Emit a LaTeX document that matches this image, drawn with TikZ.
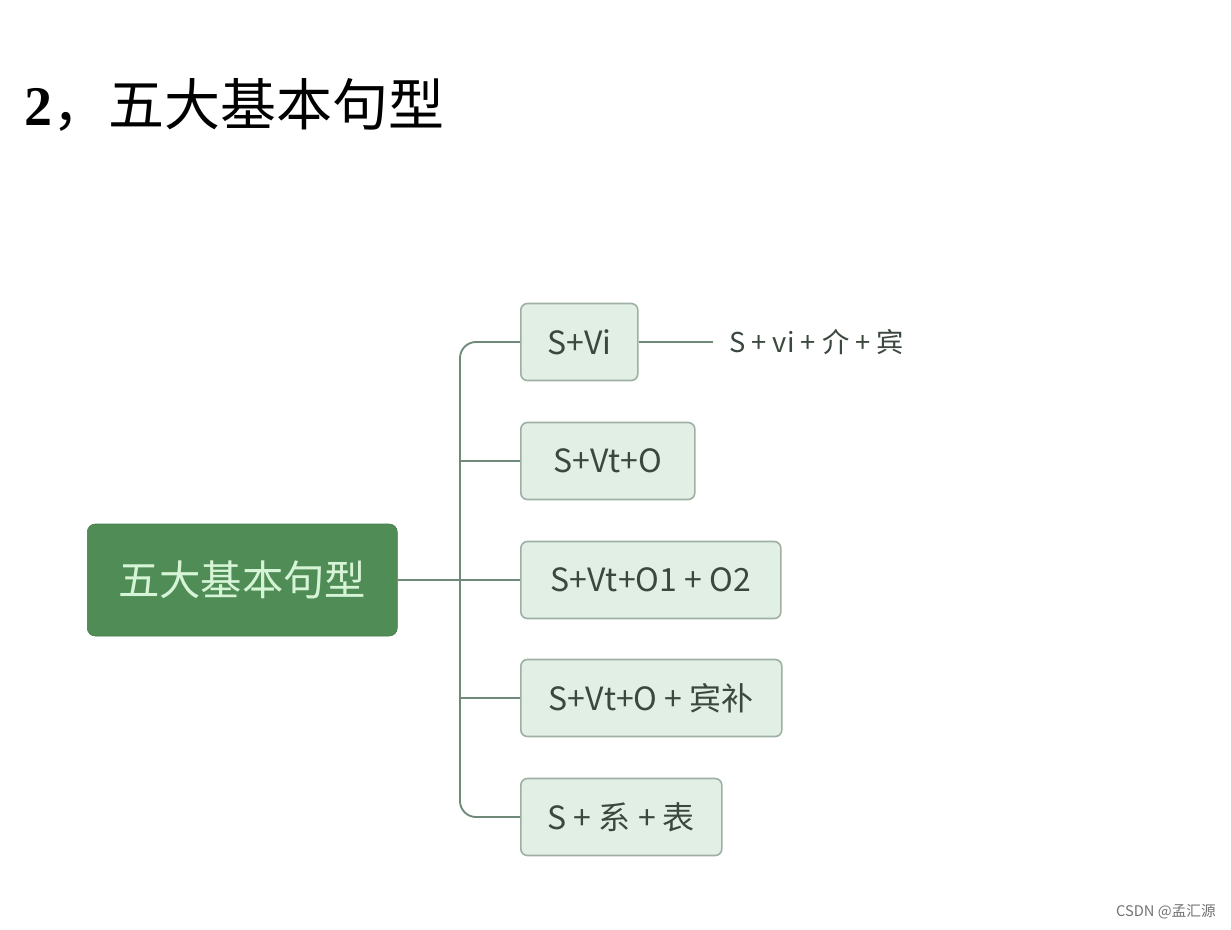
\documentclass[tikz,border=0pt]{standalone}
\usepackage{fontspec}
\setmainfont{Noto Sans CJK SC}
\newfontfamily\titlenum{Liberation Serif}
\usetikzlibrary{positioning}

\definecolor{rootgreen}{RGB}{80,141,86}
\definecolor{roottext}{RGB}{214,244,214}
\definecolor{boxfill}{RGB}{226,239,229}
\definecolor{boxline}{RGB}{158,176,164}
\definecolor{linkcol}{RGB}{112,138,122}
\definecolor{boxtext}{RGB}{58,72,62}

\tikzset{
  rootbox/.style={fill=rootgreen, draw=rootgreen!85!black, rounded corners=6pt, text=roottext,
    minimum width=232.5pt, minimum height=84pt, font=\fontsize{31}{36}\selectfont, inner sep=0pt},
  leafbox/.style={fill=boxfill, draw=boxline, line width=1.2pt, rounded corners=5pt, text=boxtext,
    minimum height=57.75pt, font=\fontsize{24}{28}\selectfont, inner sep=0pt},
  link/.style={draw=linkcol, line width=1.4pt}
}

\begin{document}
\begin{tikzpicture}[x=0.75pt,y=0.75pt,yscale=-1,xscale=1]
\useasboundingbox (0,0) rectangle (1231,929);
\fill[white] (0,0) rectangle (1231,929);

% Title
\node (title) [anchor=west, inner sep=0pt, font=\fontsize{42}{50}\selectfont] at (24,105)
  {{\titlenum\bfseries 2}，五大基本句型};

% Root
\node (root) [rootbox, anchor=west] at (87,580) {五大基本句型};

% Branches
\node (vi) [leafbox, anchor=west, minimum width=87.75pt] at (520,342) {S+Vi};
\node (vto) [leafbox, anchor=west, minimum width=130.5pt] at (520,461) {S+Vt+O};
\node (vtoo) [leafbox, anchor=west, minimum width=195pt] at (520,580) {S+Vt+O1 + O2};
\node (vtoc) [leafbox, anchor=west, minimum width=195.75pt] at (520,698) {S+Vt+O + 宾补};
\node (biao) [leafbox, anchor=west, minimum width=150.75pt] at (520,817) {S + 系 + 表};

% Sub branch
\coordinate (subend) at (713,342);
\node (sub) [anchor=west, inner sep=0pt, text=boxtext, font=\fontsize{20.5}{24}\selectfont] at (729,342)
  {S + vi + 介 + 宾};

% Connectors
\coordinate (spine) at (460,580);
\draw[link, rounded corners=12] (vi.west) -| (spine) |- (biao.west);
\draw[link] (root.east) -- (vtoo.west);
\draw[link] (vto.west) -- (vto.west -| spine);
\draw[link] (vtoc.west) -- (vtoc.west -| spine);
\draw[link] (vi.east) -- (subend);

% Watermark
\node (mark) [anchor=east, inner sep=0pt, text=black!55, font=\fontsize{11}{13}\selectfont] at (1216,912)
  {CSDN @孟汇源};

\end{tikzpicture}
\end{document}
